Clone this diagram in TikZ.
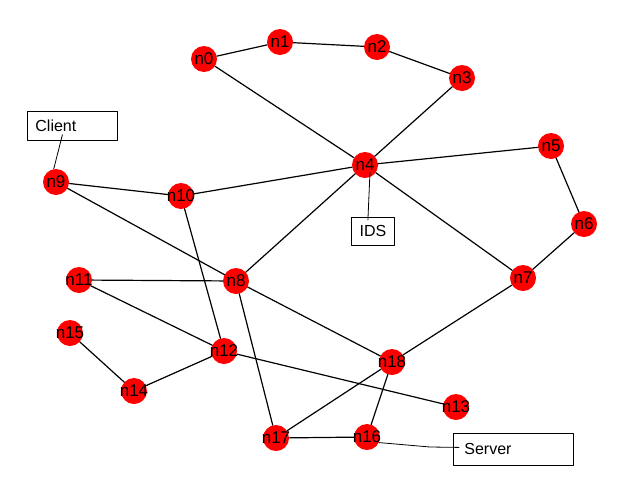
\documentclass[tikz,border=0pt]{standalone}
\usepackage{fontspec}
\setmainfont{Liberation Sans}
\begin{document}
\begin{tikzpicture}[x=1pt,y=-1pt, line join=round, line cap=round,
	vert/.style={circle,fill=red,minimum size=26pt,inner sep=0pt,
		label={[font=\fontsize{17}{17}\selectfont]center:#1}},
	link/.style={line width=1.2pt},
	tag/.style={line width=.8pt},
	tagbox/.style={draw,line width=.8pt,inner sep=0pt,font=\fontsize{16}{16}\selectfont}]
	\useasboundingbox (0,0) rectangle (640,480);
	\foreach \n/\x/\y in {0/204/59,1/280/42,2/377/47,3/462/78,4/365/165,5/551/146,
		6/584/224,7/523/278,8/236/281,9/56/182,10/181/196,11/79/280,12/224/351,
		13/456/407,14/134/391,15/70/333,16/367/437,17/276/438,18/392/362}{
		\node[vert=n\n] (n\n) at (\x,\y) {};
	}
	\foreach \a/\b in {0/1,1/2,2/3,0/4,3/4,4/5,5/6,6/7,4/7,4/10,9/10,4/8,9/8,10/12,
		11/8,11/12,8/18,8/17,7/18,18/17,18/16,17/16,12/13,12/14,14/15}{
		\draw[link] (n\a) -- (n\b);
	}
	% labels
	\node[tagbox,anchor=north west,minimum height=29pt,text width=74pt,inner xsep=8pt,align=left] (cli) at (27,111) {Client};
	\node[tagbox,anchor=north west,minimum width=43pt,minimum height=28pt] (ids) at (351,217) {IDS};
	\node[tagbox,anchor=north west,minimum height=32pt,text width=98pt,inner xsep=11pt,align=left] (srv) at (453,433) {Server};
	\coordinate (sbend) at (430,447);
	\draw[tag] ([xshift=-10pt,yshift=6pt]cli.south) -- (n9.100);
	\draw[tag] ([xshift=5pt,yshift=-7pt]n4.center) -- ([xshift=-5pt,yshift=-3pt]ids.north);
	\draw[tag] (n16.-25) -- (sbend) -- ([xshift=6pt,yshift=2pt]srv.west);
\end{tikzpicture}
\end{document}
